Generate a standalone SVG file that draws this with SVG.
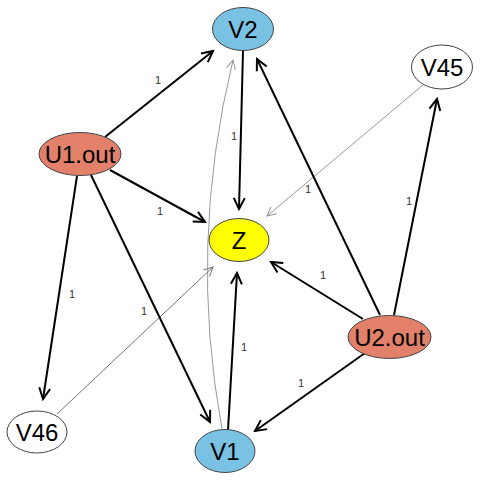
<svg xmlns="http://www.w3.org/2000/svg" width="480" height="480" viewBox="0 0 480 480">
<style>
.e{fill:none;stroke:#000;stroke-width:2;marker-end:url(#ab)}
.g{fill:none;stroke:#999;stroke-width:1;marker-end:url(#ag)}
.g2{fill:none;stroke:#777;stroke-width:1;marker-end:url(#ag2)}
.n{stroke:#444;stroke-width:1}
.t{font-family:"Liberation Sans",Arial,sans-serif;font-size:24px;text-anchor:middle;fill:#000}
.l{font-family:"Liberation Sans",Arial,sans-serif;font-size:11px;text-anchor:middle;fill:#333}
</style>
<defs>
<marker id="ab" markerUnits="userSpaceOnUse" viewBox="-12 -8 14 16" refX="0" refY="0" markerWidth="14" markerHeight="16" orient="auto"><path d="M-11,-5.5 L0,0 L-11,5.5" fill="none" stroke="#000" stroke-width="2"/></marker>
<marker id="ag" markerUnits="userSpaceOnUse" viewBox="-12 -8 14 16" refX="0" refY="0" markerWidth="14" markerHeight="16" orient="auto"><path d="M-9,-4.5 L0,0 L-9,4.5" fill="none" stroke="#999" stroke-width="1"/></marker>
<marker id="ag2" markerUnits="userSpaceOnUse" viewBox="-12 -8 14 16" refX="0" refY="0" markerWidth="14" markerHeight="16" orient="auto"><path d="M-9,-4.5 L0,0 L-9,4.5" fill="none" stroke="#777" stroke-width="1"/></marker>
</defs>
<rect width="480" height="480" fill="#fff"/>
<g id="edges">
<path class="g" d="M222,429 Q188,245 233,60"/>
<line class="g" x1="423" y1="85" x2="267" y2="216"/>
<line class="g2" x1="57" y1="414" x2="213" y2="267"/>
<line class="e" x1="105" y1="137" x2="213" y2="51"/>
<line class="e" x1="110" y1="170" x2="205" y2="222"/>
<line class="e" x1="77" y1="176" x2="43" y2="399"/>
<line class="e" x1="91" y1="175" x2="210" y2="422"/>
<line class="e" x1="243" y1="51" x2="239" y2="209"/>
<line class="e" x1="380" y1="315" x2="257" y2="59"/>
<line class="e" x1="394" y1="315" x2="437" y2="99"/>
<line class="e" x1="363" y1="319" x2="271" y2="262"/>
<line class="e" x1="365" y1="353" x2="255" y2="431"/>
<line class="e" x1="228" y1="430" x2="237" y2="273"/>
<text class="l" x="158" y="84">1</text>
<text class="l" x="234" y="140">1</text>
<text class="l" x="160" y="215">1</text>
<text class="l" x="308" y="193">1</text>
<text class="l" x="409" y="205">1</text>
<text class="l" x="323" y="279">1</text>
<text class="l" x="72" y="298">1</text>
<text class="l" x="144" y="315">1</text>
<text class="l" x="244" y="351">1</text>
<text class="l" x="301" y="387">1</text>
</g>
<g id="V2"><ellipse class="n" cx="243" cy="29" rx="30.5" ry="21.5" fill="#79C2E4"/><text class="t" x="243" y="37.5">V2</text></g>
<g id="U1out"><ellipse class="n" cx="80" cy="154" rx="41" ry="21.5" fill="#E2806A"/><text class="t" x="80" y="162.5">U1.out</text></g>
<g id="Z"><ellipse class="n" cx="239" cy="240" rx="30" ry="21.5" fill="#FFFF00"/><text class="t" x="239" y="248.5">Z</text></g>
<g id="V45"><ellipse class="n" cx="442" cy="67" rx="30.5" ry="22" fill="#fff"/><text class="t" x="442" y="75.5">V45</text></g>
<g id="U2out"><ellipse class="n" cx="389.5" cy="337" rx="41.5" ry="21.5" fill="#E2806A"/><text class="t" x="389.5" y="345.5">U2.out</text></g>
<g id="V46"><ellipse class="n" cx="37" cy="432" rx="30" ry="21" fill="#fff"/><text class="t" x="37" y="440.5">V46</text></g>
<g id="V1"><ellipse class="n" cx="225" cy="451" rx="30" ry="21.5" fill="#79C2E4"/><text class="t" x="225" y="459.5">V1</text></g>
</svg>
